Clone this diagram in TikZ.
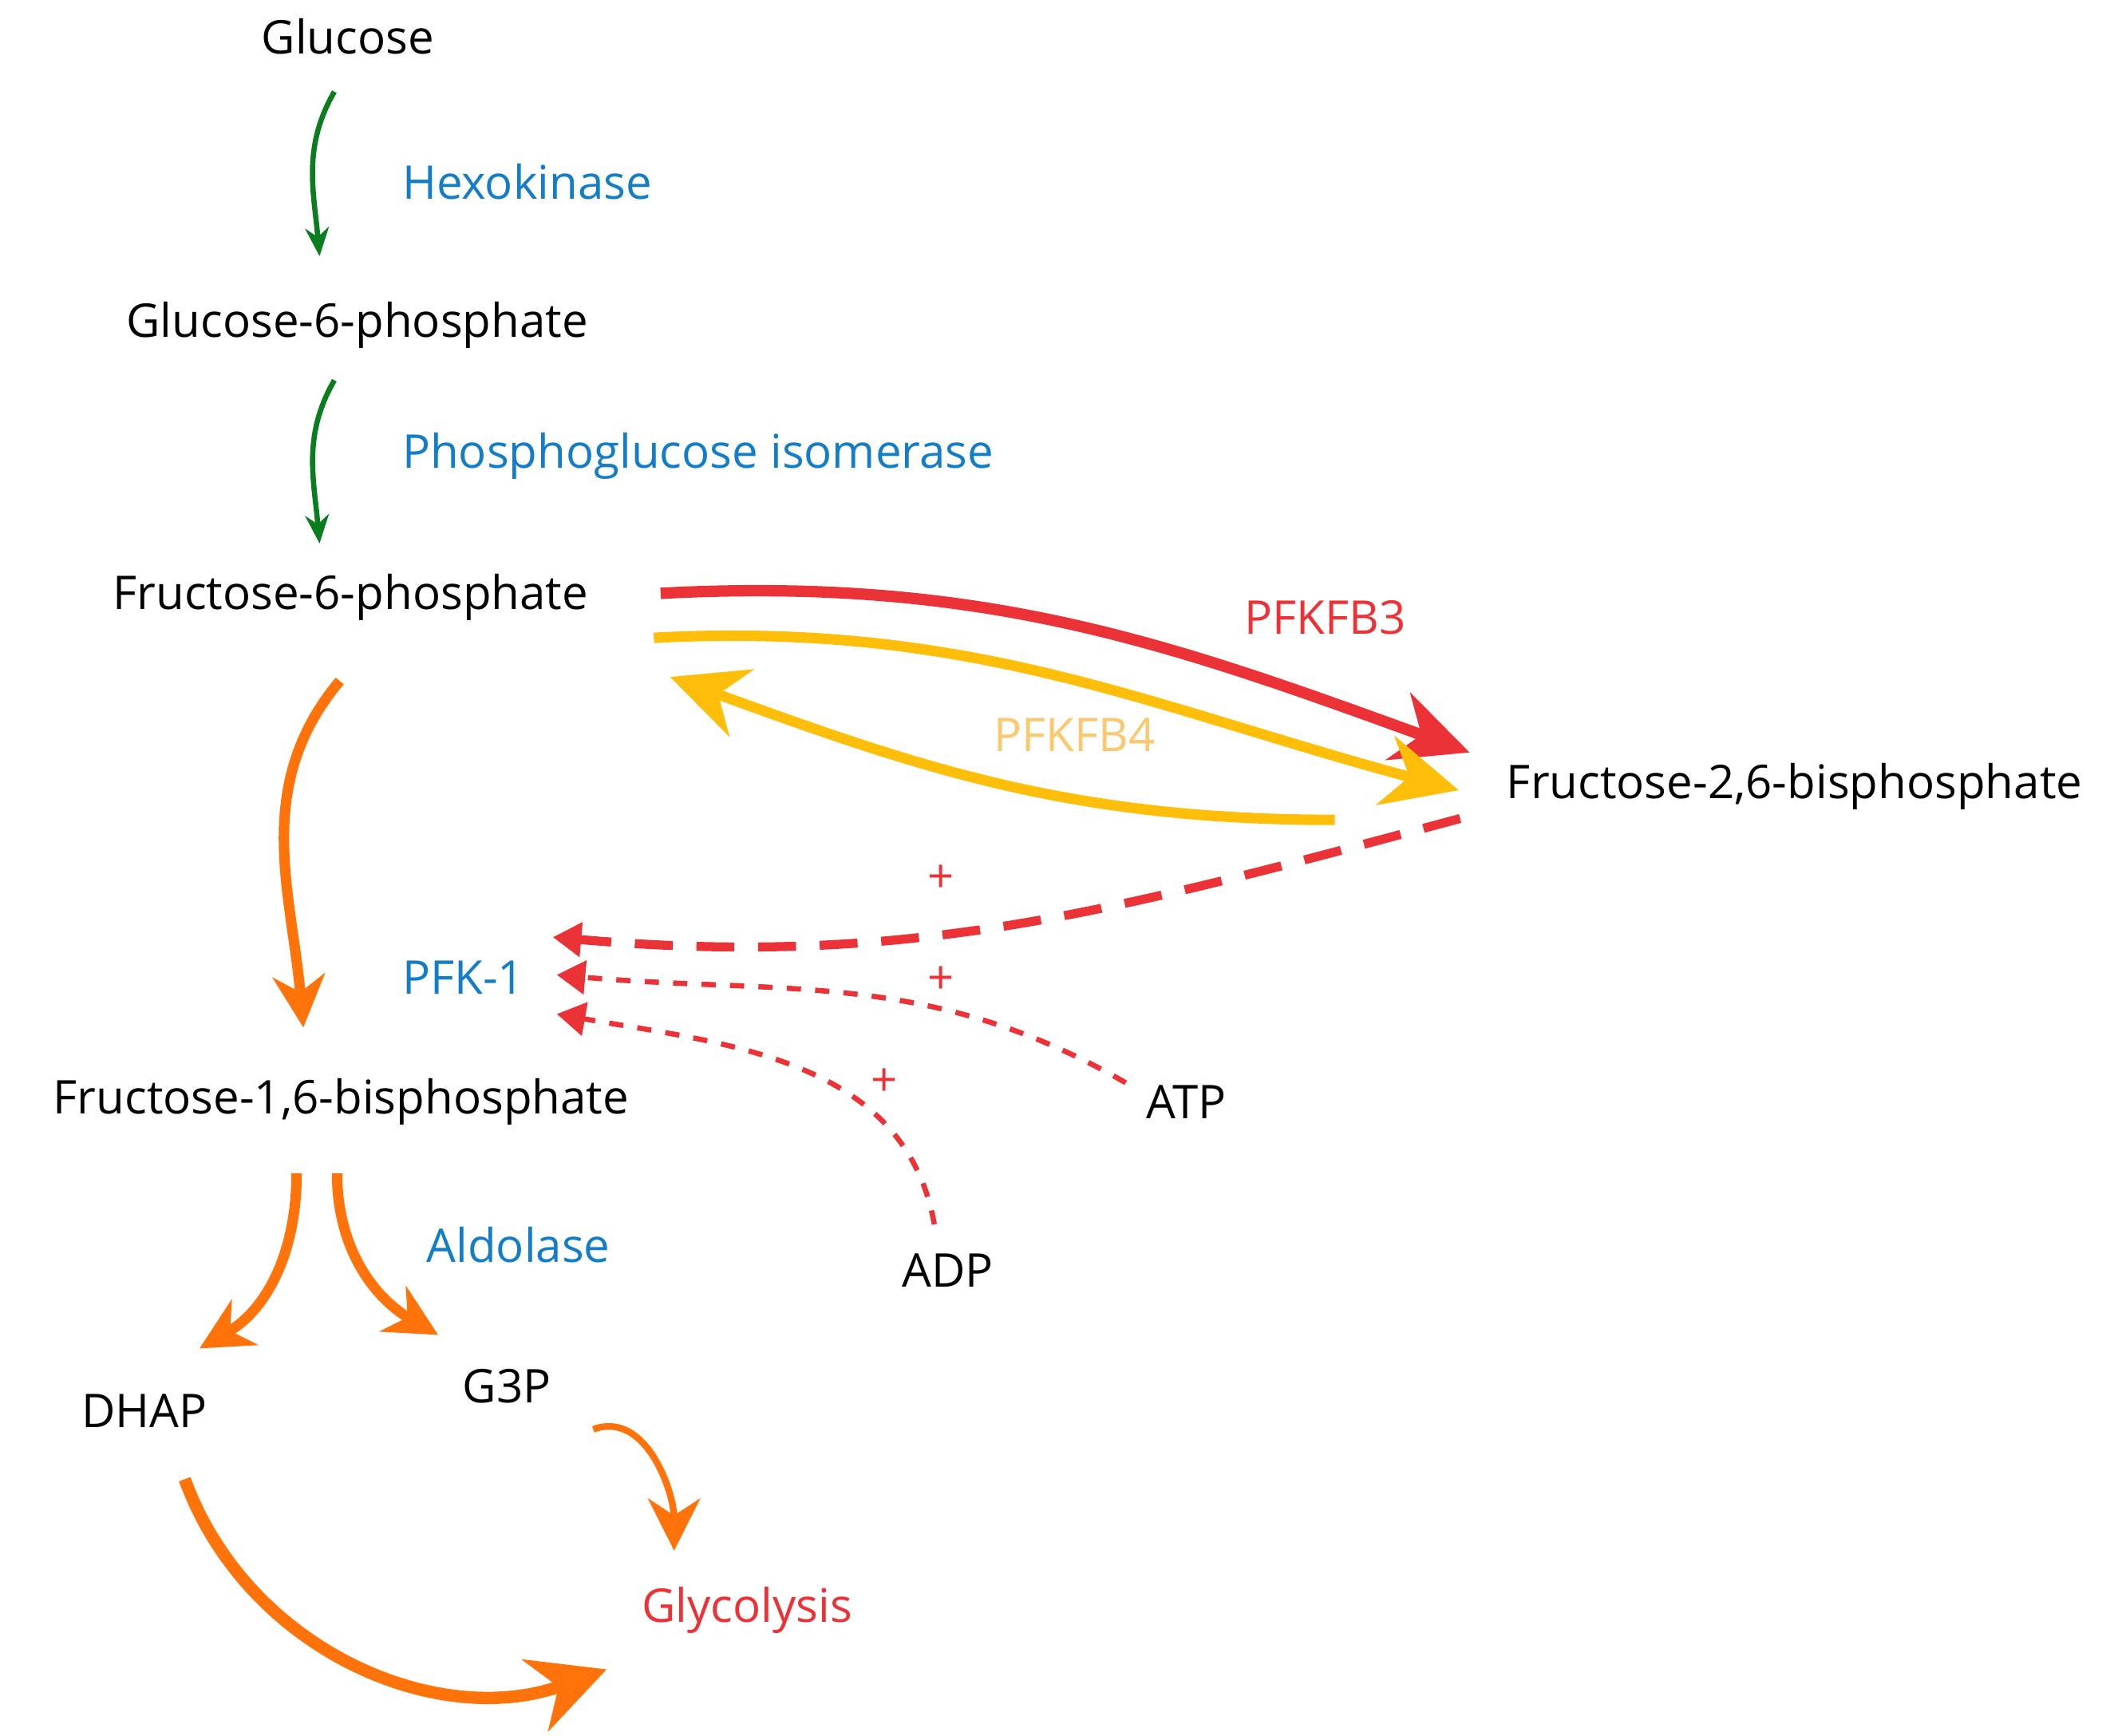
\documentclass[tikz,border=0pt]{standalone}
\usepackage{fontspec}
\setmainfont{Open Sans}
\usetikzlibrary{arrows.meta}
\definecolor{enzblue}{RGB}{20,125,200}
\definecolor{pgreen}{RGB}{10,125,30}
\definecolor{pred}{RGB}{235,50,55}
\definecolor{porange}{RGB}{255,115,10}
\definecolor{pyellow}{RGB}{255,190,10}
\definecolor{plight}{RGB}{250,200,110}
\tikzset{
    met/.style={font=\fontsize{9.8}{11}\selectfont, text=black},
    enz/.style={met, text=enzblue, anchor=west},
    gstep/.style={-{Stealth[length=6pt,width=5pt]}, line width=1.1pt, pgreen},
    flow/.style={-{Stealth[length=11pt,width=11pt]}, line width=2.2pt, porange},
    act/.style={-{Triangle[length=6pt,width=7pt]}, pred, dashed, line width=1.1pt},
}
\begin{document}
\begin{tikzpicture}[x=0.01cm,y=-0.01cm]
    \useasboundingbox (0,0) rectangle (1568,1287);
    % metabolites
    \node[met] (glc) at (258,27) {Glucose};
    \node[met] (g6p) at (265,241) {Glucose-6-phosphate};
    \node[met] (f6p) at (260,443) {Fructose-6-phosphate};
    \node[met] (f26) at (1331,583) {Fructose-2,6-bisphosphate};
    \node[met] (f16) at (253,817) {Fructose-1,6-bisphosphate};
    \node[met] (atp) at (880,817) {ATP};
    \node[met] (adp) at (703,942) {ADP};
    \node[met] (dhap) at (107,1046) {DHAP};
    \node[met] (g3p) at (376,1028) {G3P};
    \node[met, text=pred] (glyc) at (554,1194) {Glycolysis};
    % enzymes
    \node[enz] (hk) at (286,135) {Hexokinase};
    \node[enz] (pgi) at (286,338) {Phosphoglucose isomerase};
    \node[enz] (pfk) at (286,725) {PFK-1};
    \node[enz] (ald) at (304,923) {Aldolase};
    \node[met, text=pred] (pfkfb3) at (983,458) {PFKFB3};
    \node[met, text=plight] (pfkfb4) at (797,545) {PFKFB4};
    \foreach \n/\x/\y in {p1/698/652, p2/698/727, p3/656/803}
        \node[met, text=pred] (\n) at (\x,\y) {+};
    % green steps
    \draw[gstep] (248,68) to[out=-120,in=95] (237,190);
    \draw[gstep] (248,282) to[out=-120,in=95] (237,403);
    % PFKFB3 / PFKFB4
    \draw[-{Stealth[length=16pt,width=15pt]}, line width=2.4pt, pred]
        (490,440) to[out=3,in=160] (1090,558);
    \draw[-{Stealth[length=16pt,width=15pt]}, line width=2.2pt, pyellow]
        (485,473) to[out=3,in=165] (1082,586);
    \draw[-{Stealth[length=16pt,width=15pt]}, line width=2.2pt, pyellow]
        (990,608) to[out=180,in=-20] (497,502);
    % activation
    \draw[act, line width=1.9pt, dash pattern=on 8pt off 5pt] (1083,607) to[out=195,in=-5] (410,695);
    \draw[act] (835,803) to[out=150,in=-5] (413,723);
    \draw[act] (693,908) to[out=100,in=-10] (413,752);
    % orange flux
    \draw[flow] (252,505) to[out=-130,in=95] (225,762);
    \draw[flow] (220,870) to[out=-90,in=30] (148,1000);
    \draw[flow] (250,870) to[out=-90,in=150] (325,990);
    \draw[flow, line width=1.4pt] (440,1060) to[out=20,in=90] (500,1150);
    \draw[flow, line width=2.6pt, -{Stealth[length=16pt,width=16pt]}] (137,1097) to[out=-70,in=-160] (450,1238);
\end{tikzpicture}
\end{document}
